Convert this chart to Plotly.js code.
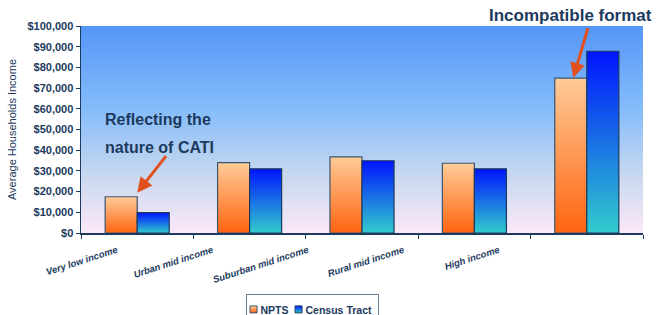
<!DOCTYPE html>
<html>
<head>
<meta charset="utf-8">
<script src="https://cdn.plot.ly/plotly-3.0.1.min.js"></script>
<style>
html,body{margin:0;padding:0;background:#fff;}
#chart{width:657px;height:315px;}
</style>
</head>
<body>
<div id="chart"></div>
<script>
// ---- data ----
const categories = ["Very low income", "Urban mid income", "Suburban mid income", "Rural mid income", "High income"];
const nptsValues = [17500, 34000, 36800, 33700, 74800];
const censusValues = [9800, 31000, 34900, 31000, 87800];
const seriesNames = ["NPTS", "Census Tract"];
const yTickVals = [0, 10000, 20000, 30000, 40000, 50000, 60000, 70000, 80000, 90000, 100000];
const yTickText = ["$0", "$10,000", "$20,000", "$30,000", "$40,000", "$50,000", "$60,000", "$70,000", "$80,000", "$90,000", "$100,000"];

const navy = "#1c3a5e";
const FONT = "Liberation Sans, Arial, sans-serif";
const bgSvg = '<svg xmlns="http://www.w3.org/2000/svg" width="10" height="100" preserveAspectRatio="none">' +
  '<defs><linearGradient id="g" x1="0" y1="0" x2="0" y2="1">' +
  '<stop offset="0" stop-color="#5596f7"/><stop offset="0.4" stop-color="#84bcfa"/>' +
  '<stop offset="0.72" stop-color="#c8d8ef"/><stop offset="1" stop-color="#fbe9f8"/></linearGradient></defs>' +
  '<rect width="10" height="100" fill="url(#g)"/></svg>';
const bgUri = "data:image/svg+xml;base64," + btoa(bgSvg);

const traces = [
  {type: "bar", name: seriesNames[0], x: categories, y: nptsValues,
   marker: {color: "#ff9a5a", line: {color: "#3b5670", width: 1.2}}, hoverinfo: "none"},
  {type: "bar", name: seriesNames[1], x: categories, y: censusValues,
   marker: {color: "#1f6fe8", line: {color: "#1c3a5e", width: 1.2}}, hoverinfo: "none"},
  // category label carrier for the (Excel-style, narrower-spaced) category labels
  {type: "scatter", mode: "none", x: categories, y: nptsValues, xaxis: "x2", yaxis: "y",
   showlegend: false, hoverinfo: "none"}
];

const layout = {
  width: 657, height: 315,
  margin: {l: 81, r: 14, t: 26, b: 82},
  paper_bgcolor: "#ffffff",
  plot_bgcolor: "rgba(0,0,0,0)",
  font: {family: FONT, color: navy},
  barmode: "group", bargap: 0.43, bargroupgap: 0,
  showlegend: true,
  legend: {orientation: "h", xref: "container", yref: "container", x: 0.475, xanchor: "center",
           y: 0.067, yanchor: "top", bordercolor: "#6a7f99", borderwidth: 1, bgcolor: "#ffffff",
           font: {size: 10.5, color: navy, family: FONT, weight: "bold"},
           itemwidth: 30, tracegroupgap: 0},
  images: [{source: bgUri, xref: "paper", yref: "paper", x: 0, y: 1, sizex: 1, sizey: 1,
            xanchor: "left", yanchor: "top", sizing: "stretch", layer: "below"}],
  xaxis: {type: "category", showgrid: false, zeroline: false, showline: true, linecolor: navy, linewidth: 1.5,
          ticks: "outside", tickson: "boundaries", ticklen: 4, tickcolor: navy, showticklabels: false},
  xaxis2: {type: "category", domain: [0, 0.8496], anchor: "y", range: [-0.5, 4.5], showgrid: false,
           zeroline: false, showline: false, ticks: "", tickangle: -18, ticklabelshift: -12, ticklabelstandoff: 9,
           tickfont: {size: 9.5, color: navy, family: FONT, weight: "bold", style: "italic"}},
  yaxis: {range: [0, 100000], tickvals: yTickVals, ticktext: yTickText, showgrid: false, zeroline: false,
          showline: true, linecolor: navy, linewidth: 1.5, ticks: "outside", ticklen: 4, tickcolor: navy,
          tickfont: {size: 11, color: navy, family: FONT, weight: "bold"},
          title: {text: "Average Households Income", standoff: 8,
                  font: {size: 11, color: navy, family: FONT}}},
  annotations: [
    {xref: "paper", yref: "paper", x: 0.04, y: 0.546, xanchor: "left", yanchor: "middle",
     text: "Reflecting the", showarrow: false,
     font: {size: 16, color: navy, family: FONT, weight: "bold"}},
    {xref: "paper", yref: "paper", x: 0.04, y: 0.415, xanchor: "left", yanchor: "middle",
     text: "nature of CATI", showarrow: false,
     font: {size: 16, color: navy, family: FONT, weight: "bold"}},
    {xref: "x", yref: "y", x: 0, y: 19500, text: "", showarrow: true, arrowhead: 2, arrowsize: 1,
     arrowwidth: 3, arrowcolor: "#e0501e", ax: 30, ay: -38},
    {xref: "paper", yref: "paper", x: 1.0195, y: 1.0, xanchor: "right", yanchor: "middle",
     yshift: 11, text: "Incompatible format", showarrow: false,
     font: {size: 17, color: navy, family: FONT, weight: "bold"}},
    {xref: "x", yref: "y", x: 3.88, y: 75000, text: "", showarrow: true, arrowhead: 2, arrowsize: 1,
     arrowwidth: 3, arrowcolor: "#e0501e", ax: 15, ay: -51}
  ]
};

Plotly.newPlot("chart", traces, layout, {staticPlot: true, displayModeBar: false}).then(function (gd) {
  const svg = gd.querySelector(".main-svg");
  const ns = "http://www.w3.org/2000/svg";
  let defs = svg.querySelector("defs");
  if (!defs) { defs = document.createElementNS(ns, "defs"); svg.insertBefore(defs, svg.firstChild); }
  function grad(id, top, bottom) {
    const g = document.createElementNS(ns, "linearGradient");
    g.setAttribute("id", id); g.setAttribute("x1", "0"); g.setAttribute("y1", "0");
    g.setAttribute("x2", "0"); g.setAttribute("y2", "1");
    [[0, top], [1, bottom]].forEach(function (s) {
      const st = document.createElementNS(ns, "stop");
      st.setAttribute("offset", s[0]); st.setAttribute("stop-color", s[1]);
      g.appendChild(st);
    });
    defs.appendChild(g);
  }
  grad("gradNpts", "#ffcb98", "#ff6410");
  grad("gradCensus", "#0014ff", "#32cccc");
  const ids = ["gradNpts", "gradCensus"];
  gd.querySelectorAll(".barlayer .trace.bars").forEach(function (t, i) {
    t.querySelectorAll("path").forEach(function (p) { p.style.fill = "url(#" + ids[i] + ")"; });
  });
  // compact, Excel-like legend entries
  try {
    const leg = gd.querySelector(".legend");
    const items = leg.querySelectorAll(".traces");
    let x = 3;
    items.forEach(function (t, i) {
      const m = /translate\(\s*([-\d.]+)[\s,]*([-\d.]+)?\s*\)/.exec(t.getAttribute("transform") || "");
      const ty = m && m[2] ? parseFloat(m[2]) : 0;
      t.setAttribute("transform", "translate(" + x + "," + ty + ")");
      t.querySelectorAll(".legendpoints path").forEach(function (p) {
        p.setAttribute("d", "M3.5,3.5H-3.5V-3.5H3.5Z");
        p.setAttribute("transform", "translate(5,0)");
        p.style.fill = "url(#" + ids[i] + ")";
        p.style.strokeWidth = "1px";
      });
      const txt = t.querySelector("text.legendtext");
      txt.setAttribute("x", 12);
      txt.querySelectorAll("tspan").forEach(function (s) { if (s.hasAttribute("x")) s.setAttribute("x", 12); });
      const len = txt.getComputedTextLength();
      x += 12 + len + 5;
    });
    const W = x + 2;
    const bg = leg.querySelector("rect.bg");
    bg.setAttribute("width", W);
    const lm = /translate\(\s*([-\d.]+)[\s,]*([-\d.]+)?\s*\)/.exec(leg.getAttribute("transform") || "");
    const ly = lm && lm[2] ? parseFloat(lm[2]) : 0;
    leg.setAttribute("transform", "translate(" + (312 - W / 2) + "," + ly + ")");
  } catch (e) { /* keep default legend */ }
});
</script>
</body>
</html>
